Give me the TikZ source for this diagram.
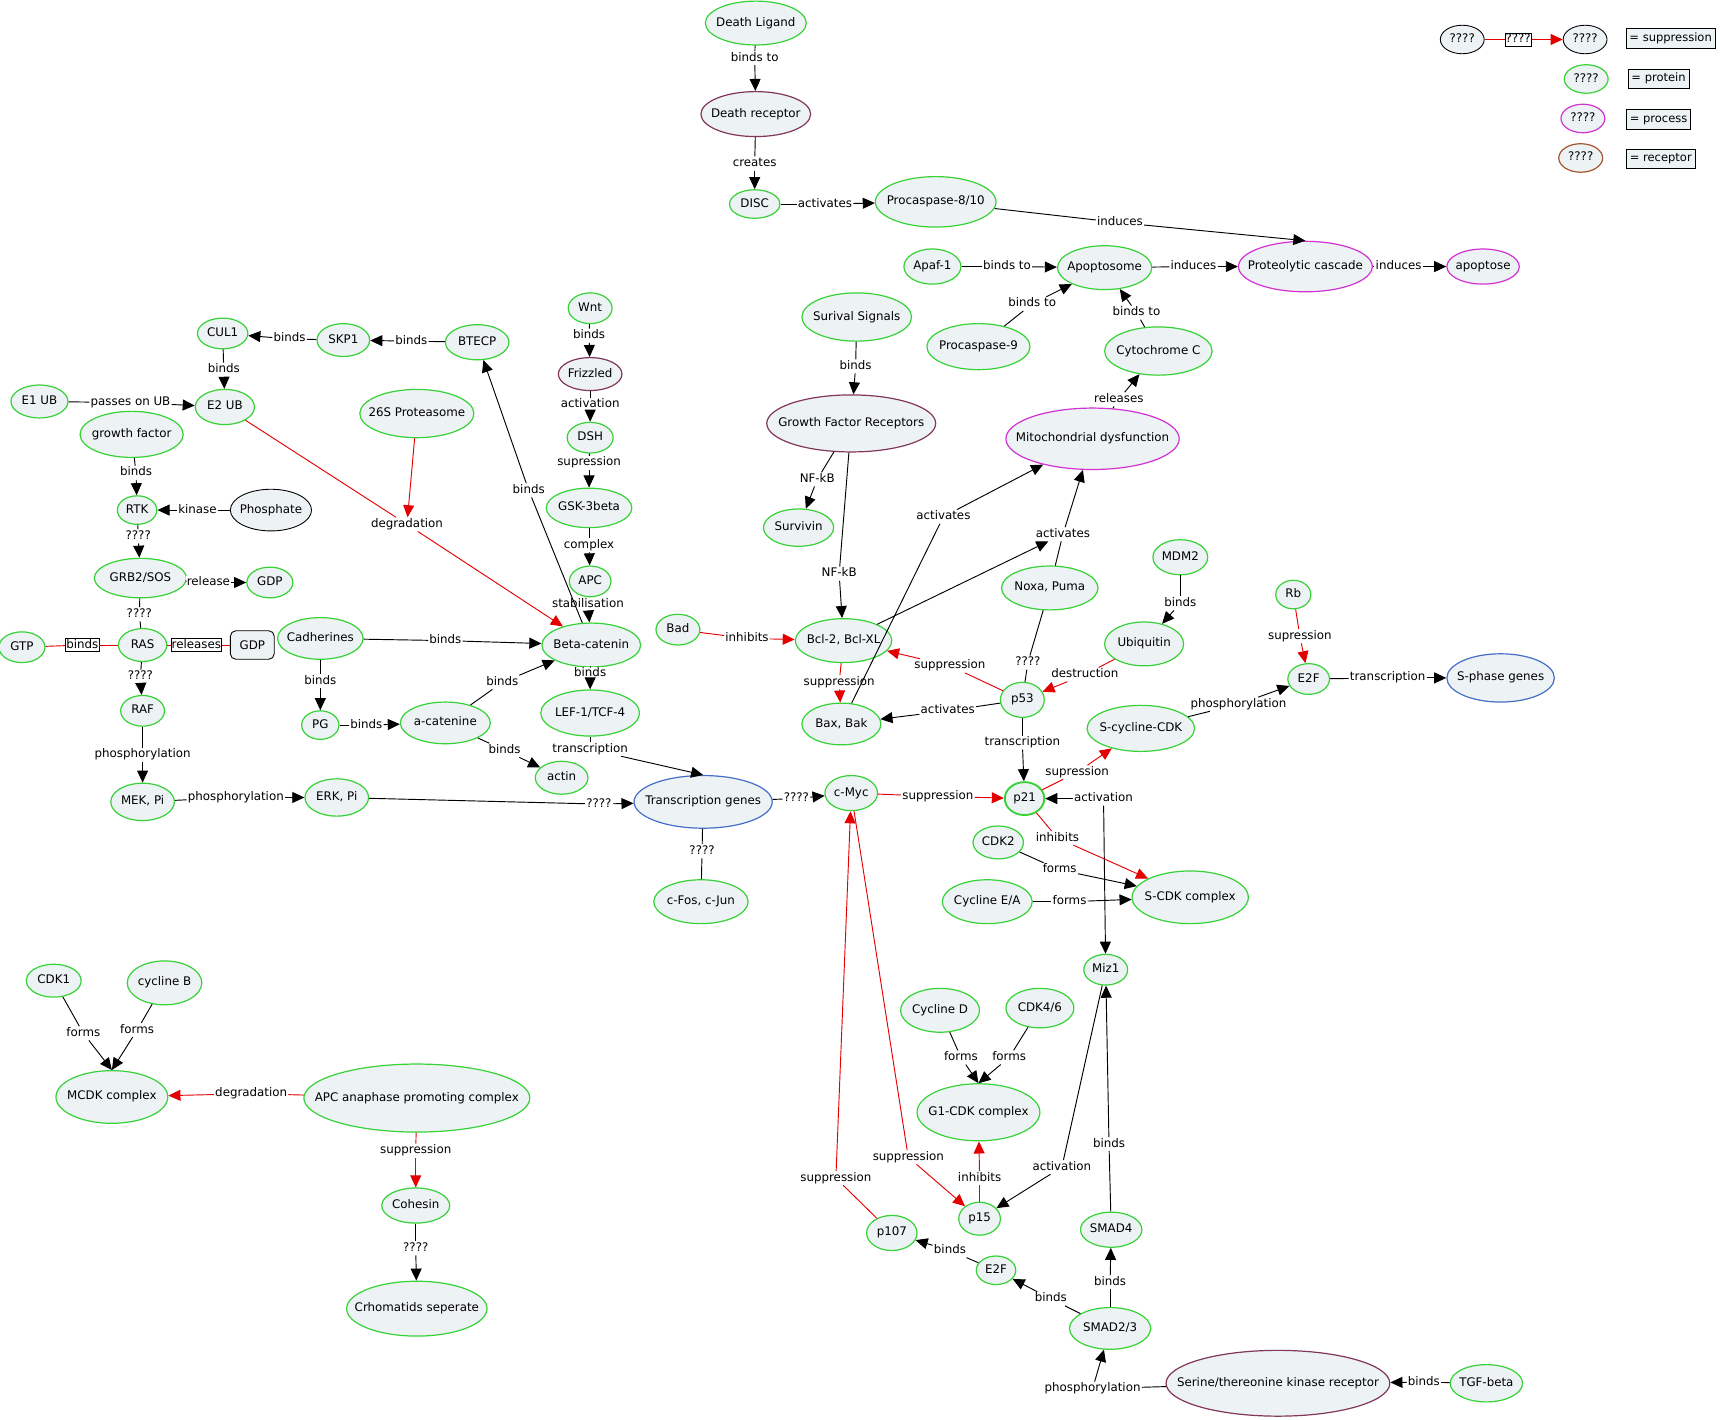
\documentclass[tikz,border=0pt]{standalone}
\usepackage{fontspec}
\setmainfont{DejaVu Sans}
\usetikzlibrary{shapes.geometric,arrows.meta}
\definecolor{cfill}{RGB}{237,243,244}
\definecolor{cgreen}{RGB}{55,210,55}
\definecolor{cproc}{RGB}{210,50,210}
\definecolor{cblue}{RGB}{70,110,200}
\definecolor{crec}{RGB}{130,55,90}
\definecolor{cbrown}{RGB}{165,85,45}
\definecolor{cred}{RGB}{228,0,0}
\newcommand\zt[1]{\makebox[0pt]{#1}}
% #1 colour prefix, #2 from, #3 label name, #4 label position, #5 label text, #6 to
\newcommand\lk[6][]{\node[lb] (#3) at (#4) {#5};\draw[#1ln] (#2) -- (#3);\draw[#1ar] (#3) -- (#6);}
\newcommand\nk[6][]{\node[lb] (#3) at (#4) {#5};\draw[#1ln] (#2) -- (#3);\draw[#1ln] (#3) -- (#6);}
\begin{document}
\begin{tikzpicture}[x=1pt,y=-1pt,
  fs/.style={font=\fontsize{10.8}{12}\selectfont},
  cbase/.style={ellipse, fill=cfill, inner sep=0pt, line width=1.1pt, fs, text height=8pt, text depth=2.5pt},
  prot/.style 2 args={cbase, draw=cgreen, minimum width=#1pt, minimum height=#2pt},
  proc/.style 2 args={cbase, draw=cproc, minimum width=#1pt, minimum height=#2pt},
  gene/.style 2 args={cbase, draw=cblue, minimum width=#1pt, minimum height=#2pt},
  recp/.style 2 args={cbase, draw=crec, minimum width=#1pt, minimum height=#2pt},
  brwn/.style 2 args={cbase, draw=cbrown, minimum width=#1pt, minimum height=#2pt},
  blk/.style 2 args={cbase, draw=black, line width=0.8pt, minimum width=#1pt, minimum height=#2pt},
  lb/.style={fill=white, inner sep=1pt, fs, text height=8pt, text depth=2.5pt},
  bx/.style={lb, draw=black, line width=0.6pt, inner sep=0.6pt},
  keybox/.style={draw=black, fill=cfill, line width=0.8pt, inner xsep=3pt, minimum height=18pt, font=\fontsize{10.5}{12}\selectfont, text height=7.5pt, text depth=2.3pt},
  ln/.style={line width=0.85pt},
  ar/.style={ln, -{Triangle[length=11pt,width=10pt]}},
  rln/.style={ln, draw=cred},
  rar/.style={ar, draw=cred}]
\useasboundingbox (0,0) rectangle (1568,1294);

% ---------- concepts: apoptosis part
\node[prot={92}{40}] (dl) at (689,21) {\zt{Death Ligand}};
\node[recp={100}{41}] (dr) at (689,104) {\zt{Death receptor}};
\node[prot={46}{26}] (disc) at (688,186) {\zt{DISC}};
\node[prot={110}{46}] (p810) at (853,184) {\zt{Procaspase-8/10}};
\node[proc={122}{46}] (pc) at (1190,243) {\zt{Proteolytic cascade}};
\node[proc={66}{32}] (apo) at (1352,243) {\zt{apoptose}};
\node[prot={52}{32}] (apaf) at (850,243) {\zt{Apaf-1}};
\node[prot={86}{40}] (apt) at (1007,244) {\zt{Apoptosome}};
\node[prot={94}{42}] (pc9) at (892,316) {\zt{Procaspase-9}};
\node[prot={98}{44}] (cytc) at (1056,320) {\zt{Cytochrome C}};
\node[proc={158}{56}] (mito) at (996,400) {\zt{Mitochondrial dysfunction}};
\node[prot={100}{44}] (ss) at (781,289) {\zt{Surival Signals}};
\node[recp={154}{52}] (gfr) at (776,386) {\zt{Growth Factor Receptors}};
\node[prot={64}{34}] (svv) at (728,481) {\zt{Survivin}};
\node[prot={88}{40}] (bcl) at (769,584) {\zt{Bcl-2, Bcl-XL}};
\node[prot={40}{28}] (bad) at (618,574) {\zt{Bad}};
\node[prot={72}{38}] (bax) at (767,660) {\zt{Bax, Bak}};
\node[prot={88}{40}] (noxa) at (957,536) {\zt{Noxa, Puma}};
\node[prot={50}{32}] (mdm2) at (1076,508) {\zt{MDM2}};
\node[prot={72}{40}] (ubi) at (1043,587) {\zt{Ubiquitin}};
\node[prot={40}{32}] (p53) at (932,638) {\zt{p53}};
\node[prot={36}{30}, line width=1.7pt] (p21) at (934,728) {\zt{p21}};
\node[prot={48}{32}] (cmyc) at (776,723) {\zt{c-Myc}};
\node[gene={126}{48}] (tg) at (641,731) {\zt{Transcription genes}};
\node[prot={86}{40}] (cfos) at (639,822) {\zt{c-Fos, c-Jun}};
\node[prot={98}{42}] (scyc) at (1040,664) {\zt{S-cycline-CDK}};
\node[prot={32}{26}] (rb) at (1179,542) {\zt{Rb}};
\node[prot={38}{28}] (e2f) at (1193,619) {\zt{E2F}};
\node[gene={98}{44}] (sph) at (1368,618) {\zt{S-phase genes}};
\node[prot={46}{30}] (cdk2) at (910,768) {\zt{CDK2}};
\node[prot={82}{40}] (cyce) at (900,822) {\zt{Cycline E/A}};
\node[prot={106}{48}] (scdk) at (1085,818) {\zt{S-CDK complex}};
\node[prot={40}{28}] (miz) at (1008,884) {\zt{Miz1}};
\node[prot={72}{40}] (cycd) at (857,921) {\zt{Cycline D}};
\node[prot={62}{36}] (cdk46) at (948,919) {\zt{CDK4/6}};
\node[prot={112}{52}] (g1) at (892,1014) {\zt{G1-CDK complex}};
\node[prot={38}{30}] (p15) at (893,1111) {\zt{p15}};
\node[prot={56}{32}] (smad4) at (1013,1121) {\zt{SMAD4}};
\node[prot={74}{38}] (smad23) at (1012,1211) {\zt{SMAD2/3}};
\node[prot={36}{26}] (e2fb) at (908,1158) {\zt{E2F}};
\node[prot={46}{32}] (p107) at (813,1124) {\zt{p107}};
\node[recp={204}{60}] (ser) at (1165,1261) {\zt{Serine/thereonine kinase receptor}};
\node[prot={66}{34}] (tgf) at (1355,1261) {\zt{TGF-beta}};

% ---------- concepts: left part
\node[prot={46}{28}] (cul1) at (203,304) {\zt{CUL1}};
\node[prot={48}{30}] (skp1) at (313,310) {\zt{SKP1}};
\node[prot={58}{32}] (btecp) at (435,312) {\zt{BTECP}};
\node[prot={52}{30}] (e1) at (36,366) {\zt{E1 UB}};
\node[prot={54}{32}] (e2) at (205,371) {\zt{E2 UB}};
\node[prot={104}{44}] (s26) at (380,377) {\zt{26S Proteasome}};
\node[prot={94}{42}] (gf) at (120,396) {\zt{growth factor}};
\node[prot={36}{26}] (rtk) at (125,465) {\zt{RTK}};
\node[blk={74}{38}] (phos) at (247,465) {\zt{Phosphate}};
\node[prot={84}{36}] (grb) at (128,527) {\zt{GRB2/SOS}};
\node[prot={42}{28}] (gdp1) at (246,531) {\zt{GDP}};
\node[prot={44}{30}] (ras) at (130,588) {\zt{RAS}};
\node[prot={42}{28}] (gtp) at (20,590) {\zt{GTP}};
\node[draw=black, fill=cfill, line width=0.8pt, rounded corners=5pt, minimum width=40pt, minimum height=26pt, inner sep=0pt, fs] (gdp2) at (230,588) {GDP};
\node[prot={40}{28}] (raf) at (130,648) {\zt{RAF}};
\node[prot={58}{34}] (mek) at (130,731) {\zt{MEK, Pi}};
\node[prot={58}{34}] (erk) at (307,727) {\zt{ERK, Pi}};
\node[prot={40}{28}] (wnt) at (538,281) {\zt{Wnt}};
\node[recp={58}{30}] (friz) at (538,341) {\zt{Frizzled}};
\node[prot={42}{28}] (dsh) at (538,399) {\zt{DSH}};
\node[prot={78}{36}] (gsk) at (537,463) {\zt{GSK-3beta}};
\node[prot={38}{28}] (apc) at (538,530) {\zt{APC}};
\node[prot={90}{40}] (beta) at (539,588) {\zt{Beta-catenin}};
\node[prot={78}{38}] (cad) at (292,582) {\zt{Cadherines}};
\node[prot={34}{26}] (pg) at (292,661) {\zt{PG}};
\node[prot={82}{38}] (acat) at (406,659) {\zt{a-catenine}};
\node[prot={48}{30}] (actin) at (512,709) {\zt{actin}};
\node[prot={90}{42}] (lef) at (538,650) {\zt{LEF-1/TCF-4}};
\node[prot={50}{30}] (cdk1) at (49,894) {\zt{CDK1}};
\node[prot={68}{40}] (cycb) at (150,896) {\zt{cycline B}};
\node[prot={102}{48}] (mcdk) at (102,1000) {\zt{MCDK complex}};
\node[prot={206}{62}] (apcc) at (380,1001) {\zt{APC anaphase promoting complex}};
\node[prot={62}{32}] (coh) at (379,1099) {\zt{Cohesin}};
\node[prot={128}{50}] (chr) at (380,1193) {\zt{Crhomatids seperate}};

% ---------- legend
\node[blk={40}{26}] (lg1) at (1333,36) {\zt{????}};
\node[bx] (lgb) at (1384,36) {????};
\node[blk={40}{26}] (lg2) at (1445,36) {\zt{????}};
\draw[rln] (lg1) -- (lgb);
\draw[rar] (lgb) -- (lg2);
\node[prot={40}{26}] (lg3) at (1446,72) {\zt{????}};
\node[proc={40}{26}] (lg4) at (1443,108) {\zt{????}};
\node[brwn={40}{26}] (lg5) at (1441,144) {\zt{????}};
\node[keybox] (k1) at (1523,35) {= suppression};
\node[keybox] (k2) at (1512,72) {= protein};
\node[keybox] (k3) at (1512,109) {= process};
\node[keybox] (k4) at (1514,145) {= receptor};

% ---------- links: apoptosis part
\lk{dl}{l1}{688,53}{binds to}{dr}
\lk{dr}{l2}{688,149}{creates}{disc}
\lk{disc}{l3}{752,186}{activates}{p810}
\lk{p810}{l4}{1021,203}{induces}{pc.north}
\lk{apaf}{l5}{918,243}{binds to}{apt}
\lk{pc9}{l6}{941,277}{binds to}{apt}
\lk{cytc}{l7}{1036,285}{binds to}{apt}
\lk{apt}{l8}{1088,243}{induces}{pc}
\lk{pc}{l9}{1275,243}{induces}{apo}
\lk{mito}{l10}{1020,364}{releases}{cytc}
\lk{ss}{l11}{780,334}{binds}{gfr}
\lk{gfr}{l12}{745,437}{NF-kB}{svv}
\lk{gfr}{l13}{765,523}{NF-kB}{bcl}
\lk[r]{bad}{l14}{681,582}{inhibits}{bcl}
\lk[r]{bcl}{l15}{765,622}{suppression}{bax}
\lk{bax}{l16}{860,471}{activates}{mito}
\lk{noxa}{l17}{969,487}{activates}{mito}
\draw[ar] (bcl) -- (l17);
\nk{noxa}{l18}{937,604}{????}{p53}
\lk{mdm2}{l19}{1076,550}{binds}{ubi}
\lk[r]{ubi}{l20}{989,615}{destruction}{p53}
\lk[r]{p53}{l21}{866,607}{suppression}{bcl}
\lk{p53}{l22}{864,648}{activates}{bax}
\lk{p53}{l23}{932,677}{transcription}{p21}
\lk[r]{cmyc}{l24}{855,726}{suppression}{p21}
\lk{tg}{l25}{726,728}{????}{cmyc}
\nk{tg}{l26}{640,776}{????}{cfos}
\lk[r]{p21}{l27}{982,704}{supression}{scyc}
\lk{scyc}{l28}{1129,642}{phosphorylation}{e2f}
\lk[r]{rb}{l29}{1185,580}{supression}{e2f}
\lk{e2f}{l30}{1265,618}{transcription}{sph}
\node[lb] (l31) at (1006,728) {activation};
\draw[ar] (l31) -- (p21);
\draw[ar] (l31) -- (miz);
\lk[r]{p21}{l32}{964,764}{inhibits}{scdk}
\lk{cdk2}{l33}{966,793}{forms}{scdk}
\lk{cyce}{l34}{975,822}{forms}{scdk}
\lk{cycd}{l35}{876,964}{forms}{g1.north}
\lk{cdk46}{l36}{920,964}{forms}{g1.north}
\lk[r]{p15}{l37}{893,1074}{inhibits}{g1}
\lk{miz}{l38}{968,1064}{activation}{p15}
\lk{smad4}{l39}{1011,1043}{binds}{miz}
\lk{smad23}{l40}{1012,1169}{binds}{smad4}
\lk{smad23}{l41}{958,1184}{binds}{e2fb}
\lk{e2fb}{l42}{866,1140}{binds}{p107}
\lk[r]{p107}{l43}{762,1074}{suppression}{cmyc}
\lk[r]{cmyc}{l44}{828,1055}{suppression}{p15}
\lk{ser}{l45}{996,1266}{phosphorylation}{smad23}
\lk{tgf}{l46}{1298,1260}{binds}{ser}

% ---------- links: left part
\lk{btecp}{l47}{375,311}{binds}{skp1}
\lk{skp1}{l48}{264,309}{binds}{cul1}
\lk{cul1}{l49}{204,337}{binds}{e2}
\lk{e1}{l50}{119,367}{passes on UB}{e2}
\lk[r]{e2}{l51}{371,478}{degradation}{beta}
\draw[rar] (s26) -- (l51);
\lk{gf}{l52}{124,431}{binds}{rtk}
\lk{phos}{l53}{180,465}{kinase}{rtk}
\lk{rtk}{l54}{126,489}{????}{grb}
\lk{grb}{l55}{190,531}{release}{gdp1}
\nk{grb}{l56}{127,560}{????}{ras}
\node[bx] (l57) at (75,588) {binds};
\draw[rln] (gtp) -- (l57);
\draw[rln] (l57) -- (ras);
\node[bx] (l58) at (179,588) {releases};
\draw[rln] (ras) -- (l58);
\draw[rln] (l58) -- (gdp2);
\lk{ras}{l59}{128,617}{????}{raf}
\lk{raf}{l60}{130,688}{phosphorylation}{mek}
\lk{mek}{l61}{215,727}{phosphorylation}{erk}
\lk{erk}{l62}{546,733}{????}{tg}
\lk{wnt}{l63}{537,306}{binds}{friz}
\lk{friz}{l64}{538,369}{activation}{dsh}
\lk{dsh}{l65}{537,422}{supression}{gsk}
\lk{gsk}{l66}{537,497}{complex}{apc}
\lk{apc}{l67}{536,551}{stabilisation}{beta}
\lk{beta}{l68}{482,447}{binds}{btecp}
\lk{cad}{l69}{406,584}{binds}{beta}
\lk{cad}{l70}{292,621}{binds}{pg}
\lk{pg}{l71}{334,661}{binds}{acat}
\lk{acat}{l72}{458,622}{binds}{beta}
\lk{acat}{l73}{460,684}{binds}{actin}
\lk{beta}{l74}{538,614}{binds}{lef}
\lk{lef}{l75}{538,683}{transcription}{tg.north}
\lk{cdk1}{l76}{76,942}{forms}{mcdk.north}
\lk{cycb}{l77}{125,939}{forms}{mcdk.north}
\lk[r]{apcc}{l78}{229,997}{degradation}{mcdk}
\lk[r]{apcc}{l79}{379,1049}{suppression}{coh}
\lk{coh}{l80}{379,1138}{????}{chr}
\end{tikzpicture}
\end{document}
